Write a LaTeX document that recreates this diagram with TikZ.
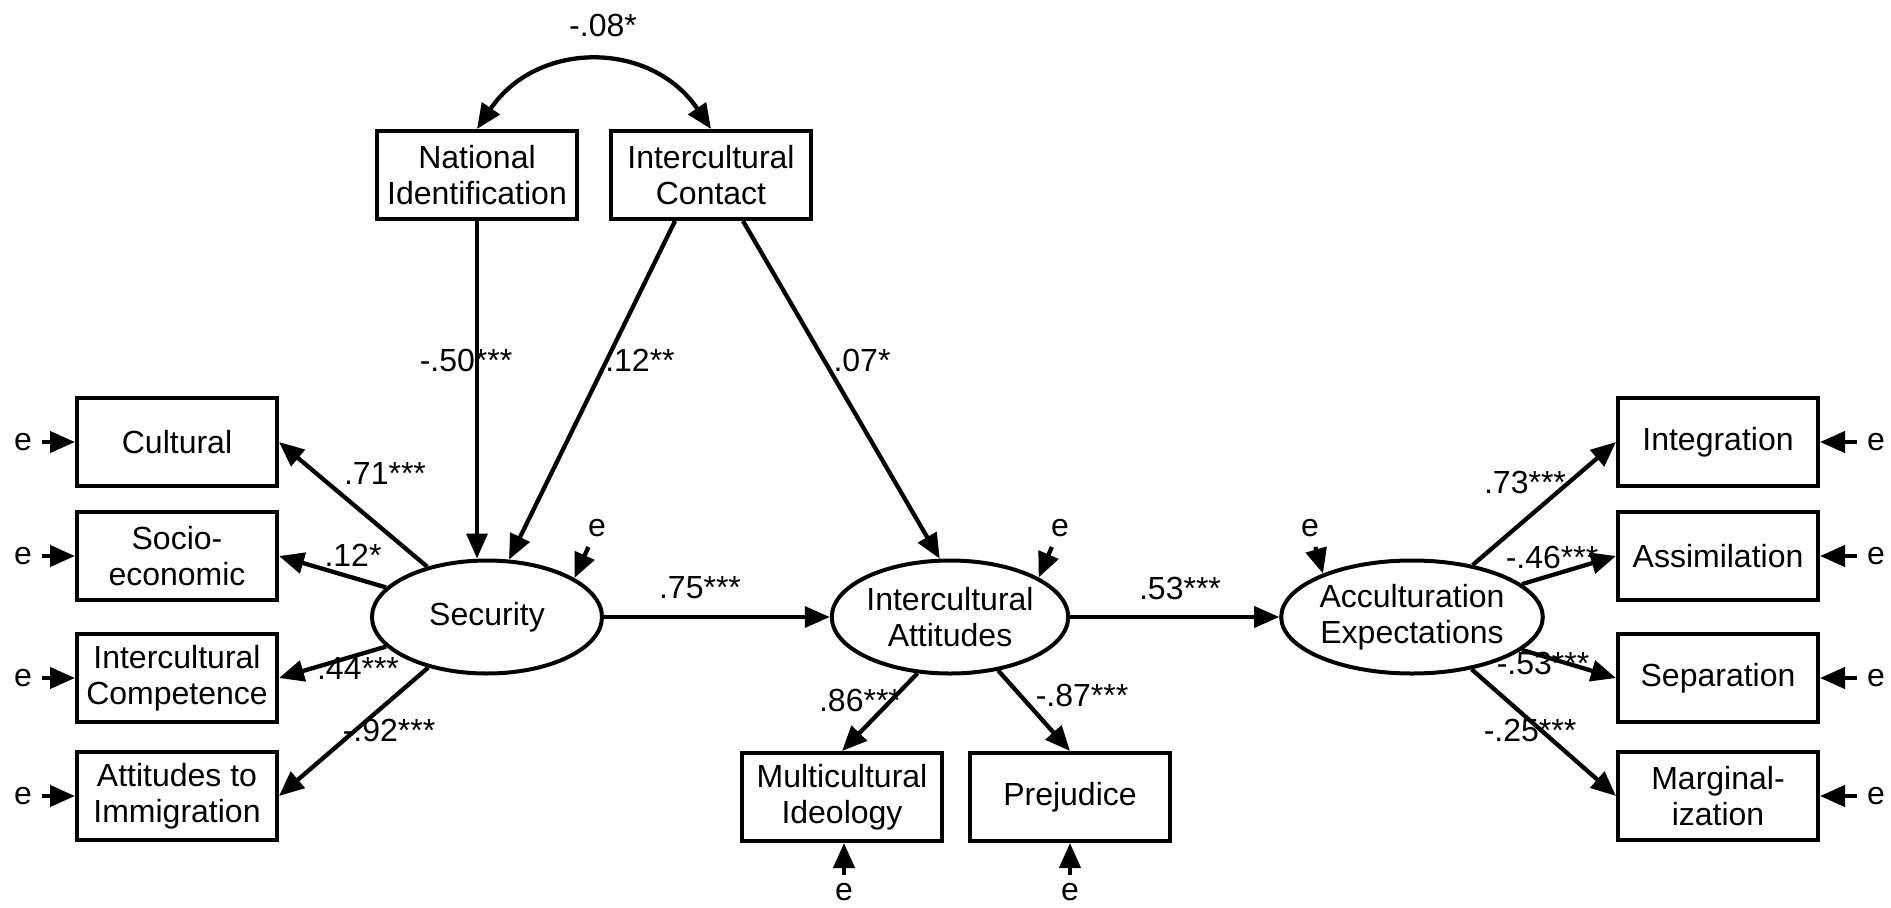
\documentclass[tikz,border=0pt]{standalone}
\usepackage{fontspec}
\setmainfont{Liberation Sans}
\usetikzlibrary{arrows.meta,shapes.geometric}
\begin{document}
\begin{tikzpicture}[x=1pt,y=-1pt,
  every node/.style={font=\fontsize{32}{36}\selectfont},
  >={Triangle[length=25pt,width=21pt]},
  obs/.style={draw, line width=4pt, minimum width=200pt, minimum height=88pt, align=center, inner sep=0pt},
  lat/.style={draw, ellipse, line width=4pt, minimum width=230pt, minimum height=113pt, align=center, inner sep=0pt},
  err/.style={inner sep=10pt},
  lab/.style={inner sep=0pt},
  arr/.style={line width=4.3pt, ->},
  harr/.style={line width=3.6pt, ->},
]
\useasboundingbox (0,0) rectangle (1891,908);
\fill[white] (0,0) rectangle (1891,908);

% observed and latent variables
\node[obs] (cult) at (177,442) {Cultural};
\node[obs] (socio) at (177,556) {Socio-\\economic};
\node[obs] (icomp) at (177,678) {Intercultural\\Competence};
\node[obs] (attimm) at (177,796) {Attitudes to\\Immigration};
\node[obs] (natid) at (477,175) {National\\Identification};
\node[obs] (contact) at (711,175) {Intercultural\\Contact};
\node[lat] (sec) at (487,617) {Security};
\node[lat] (ia) at (950,617) {Intercultural\\Attitudes};
\node[lat] (ae) at (1412,617) {Acculturation\\Expectations};
\node[obs] (mi) at (842,797) {Multicultural\\Ideology};
\node[obs] (prej) at (1070,797) {Prejudice};
\node[obs] (integ) at (1718,442) {Integration};
\node[obs] (assim) at (1718,556) {Assimilation};
\node[obs] (sepn) at (1718,678) {Separation};
\node[obs] (marg) at (1718,796) {Marginal-\\ization};

% error terms
\node[err] (ecult) at (23,442) {e};
\node[err] (esocio) at (23,556) {e};
\node[err] (eicomp) at (23,678) {e};
\node[err] (eattimm) at (23,796) {e};
\node[err] (einteg) at (1876,442) {e};
\node[err] (eassim) at (1876,556) {e};
\node[err] (esepn) at (1876,678) {e};
\node[err] (emarg) at (1876,796) {e};
\node[err, inner sep=8pt] (emi) at (844,892) {e};
\node[err, inner sep=8pt] (eprej) at (1070,892) {e};
\node[err] (esec) at (597,528) {e};
\node[err] (eia) at (1060,528) {e};
\node[err] (eae) at (1310,528) {e};

\draw[arr] (ecult) -- (cult);
\draw[arr] (esocio) -- (socio);
\draw[arr] (eicomp) -- (icomp);
\draw[arr] (eattimm) -- (attimm);
\draw[arr] (einteg) -- (integ);
\draw[arr] (eassim) -- (assim);
\draw[arr] (esepn) -- (sepn);
\draw[arr] (emarg) -- (marg);
\draw[arr] (emi) -- (emi |- mi.south);
\draw[arr] (eprej) -- (eprej |- prej.south);
\draw[arr] (esec) -- (sec.24);
\draw[arr] (eia) -- (ia.24);
\draw[arr] (eae) -- (ae.154);

% structural paths
\draw[line width=4.3pt, <->] (natid.north) .. controls +(60,-89) and +(-60,-89) .. (contact.north);
\draw[harr] (natid.south) -- (natid.south |- sec.north);
\draw[arr] ([xshift=-36pt]contact.south) -- (sec.69);
\draw[arr] ([xshift=32pt]contact.south) -- (ia.100);
\draw[harr] (sec) -- (ia);
\draw[harr] (ia) -- (ae);

% loadings
\draw[arr] (sec) -- (cult.east);
\draw[arr] (sec) -- (socio.east);
\draw[arr] (sec) -- (icomp.east);
\draw[arr] (sec) -- (attimm.east);
\draw[arr] (ia.240) -- (mi.north);
\draw[arr] (ia.-48) -- (prej.north);
\draw[arr] (ae) -- (integ.west);
\draw[arr] (ae) -- (assim.west);
\draw[arr] (ae) -- (sepn.west);
\draw[arr] (ae) -- (marg.west);

% coefficients
\node[lab] (c08) at (603,25) {-.08*};
\node[lab] (c50) at (466,360) {-.50***};
\node[lab] (c12b) at (640,360) {.12**};
\node[lab] (c07) at (862,360) {.07*};
\node[lab] (c71) at (385,473) {.71***};
\node[lab] (c12) at (353,555) {.12*};
\node[lab] (c44) at (358,668) {.44***};
\node[lab] (c92) at (389,730) {-.92***};
\node[lab] (c75) at (700,588) {.75***};
\node[lab] (c53) at (1180,588) {.53***};
\node[lab] (c86) at (860,700) {.86***};
\node[lab] (c87) at (1082,695) {-.87***};
\node[lab] (c73) at (1525,482) {.73***};
\node[lab] (c46) at (1552,557) {-.46***};
\node[lab] (c53b) at (1543,663) {-.53***};
\node[lab] (c25) at (1530,730) {-.25***};
\end{tikzpicture}
\end{document}
